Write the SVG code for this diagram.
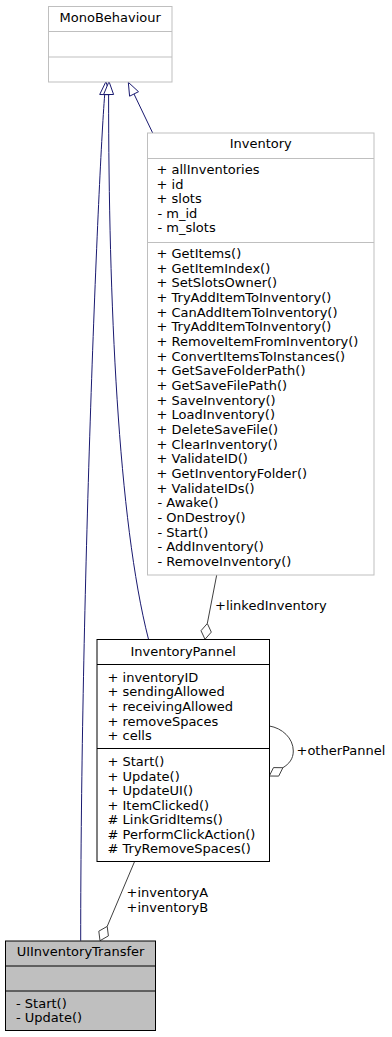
<svg xmlns="http://www.w3.org/2000/svg" width="392" height="1037" viewBox="0 0 392 1037">
  <style>
    text { font-family: "DejaVu Sans", "Liberation Sans", sans-serif; font-size: 13px; fill: #000; }
    .c { text-anchor: middle; }
    .ext { fill: #fff; stroke: #bfbfbf; stroke-width: 1; }
    .cls { fill: #fff; stroke: #000; stroke-width: 1; }
    .cur { fill: #bfbfbf; stroke: #000; stroke-width: 1; }
    .sepx { stroke: #bfbfbf; stroke-width: 1; }
    .sep { stroke: #000; stroke-width: 1; }
    .inh { fill: none; stroke: #191970; stroke-width: 1; }
    .inhHead { fill: #fff; stroke: #191970; stroke-width: 1; }
    .agg { fill: none; stroke: #404040; stroke-width: 1; }
    .aggHead { fill: #fff; stroke: #404040; stroke-width: 1; }
  </style>

  <g id="connectors">
    <!-- UIInventoryTransfer -> MonoBehaviour -->
    <path class="inh" d="M80.7,940.7 C80.7,600 98,180 104.7,94.5"/>
    <polygon class="inhHead" points="106,81.5 99.7,94.5 109.7,94.7"/>
    <!-- InventoryPannel -> MonoBehaviour -->
    <path class="inh" d="M148.5,639.3 C118,520 108.6,300 108.6,94.5"/>
    <polygon class="inhHead" points="109,81.5 103.6,94.5 113.6,94.5"/>
    <!-- Inventory -> MonoBehaviour -->
    <path class="inh" d="M152.7,133 L134,94"/>
    <polygon class="inhHead" points="128.3,82.3 129.6,96.2 138.5,91.7"/>

    <!-- linkedInventory -->
    <path class="agg" d="M216.7,575 L207.3,623.5"/>
    <polygon class="aggHead" points="205,639.3 201,630.7 207.3,623.5 211.3,632.1"/>
    <text x="215" y="610">+linkedInventory</text>

    <!-- otherPannel (self) -->
    <path class="agg" d="M269.3,726 C282,728 293.3,738 293.3,751 C293.3,759 289,764 282.9,767.7"/>
    <polygon class="aggHead" points="269.3,776 273.5,767.6 282.9,767.7 278.7,776.1"/>
    <text x="296.5" y="754.5">+otherPannel</text>

    <!-- inventoryA / inventoryB -->
    <path class="agg" d="M134.5,861.7 L107.2,926.4"/>
    <polygon class="aggHead" points="100,940.7 98.8,931.2 107.2,926.4 108.4,935.9"/>
    <text x="126.5" y="897">+inventoryA</text>
    <text x="126.5" y="911.5">+inventoryB</text>
  </g>

  <g id="MonoBehaviour">
    <rect class="ext" x="48.5" y="6.5" width="123.5" height="75.5"/>
    <line class="sepx" x1="48.5" y1="31.5" x2="172" y2="31.5"/>
    <line class="sepx" x1="48.5" y1="57" x2="172" y2="57"/>
    <text class="c" x="110.2" y="22">MonoBehaviour</text>
  </g>

  <g id="Inventory">
    <rect class="ext" x="147.5" y="133" width="226.5" height="442"/>
    <line class="sepx" x1="147.5" y1="158.5" x2="374" y2="158.5"/>
    <line class="sepx" x1="147.5" y1="242.5" x2="374" y2="242.5"/>
    <text class="c" x="260.7" y="148.3">Inventory</text>
    <text x="156.5" y="174">+ allInventories</text>
    <text x="156.5" y="188.6">+ id</text>
    <text x="156.5" y="203.2">+ slots</text>
    <text x="157.5" y="217.8">- m_id</text>
    <text x="157.5" y="232.4">- m_slots</text>
    <text x="156.5" y="258">+ GetItems()</text>
    <text x="156.5" y="272.67">+ GetItemIndex()</text>
    <text x="156.5" y="287.33">+ SetSlotsOwner()</text>
    <text x="156.5" y="302">+ TryAddItemToInventory()</text>
    <text x="156.5" y="316.67">+ CanAddItemToInventory()</text>
    <text x="156.5" y="331.33">+ TryAddItemToInventory()</text>
    <text x="156.5" y="346">+ RemoveItemFromInventory()</text>
    <text x="156.5" y="360.67">+ ConvertItemsToInstances()</text>
    <text x="156.5" y="375.33">+ GetSaveFolderPath()</text>
    <text x="156.5" y="390">+ GetSaveFilePath()</text>
    <text x="156.5" y="404.67">+ SaveInventory()</text>
    <text x="156.5" y="419.33">+ LoadInventory()</text>
    <text x="156.5" y="434">+ DeleteSaveFile()</text>
    <text x="156.5" y="448.67">+ ClearInventory()</text>
    <text x="156.5" y="463.33">+ ValidateID()</text>
    <text x="156.5" y="478">+ GetInventoryFolder()</text>
    <text x="156.5" y="492.67">+ ValidateIDs()</text>
    <text x="157.5" y="507.33">- Awake()</text>
    <text x="157.5" y="522">- OnDestroy()</text>
    <text x="157.5" y="536.67">- Start()</text>
    <text x="157.5" y="551.33">- AddInventory()</text>
    <text x="157.5" y="566">- RemoveInventory()</text>
  </g>

  <g id="InventoryPannel">
    <rect class="cls" x="97" y="639.5" width="172.5" height="222"/>
    <line class="sep" x1="97" y1="664.5" x2="269.5" y2="664.5"/>
    <line class="sep" x1="97" y1="748.5" x2="269.5" y2="748.5"/>
    <text class="c" x="183.2" y="656">InventoryPannel</text>
    <text x="107.5" y="681.8">+ inventoryID</text>
    <text x="107.5" y="696.4">+ sendingAllowed</text>
    <text x="107.5" y="711">+ receivingAllowed</text>
    <text x="107.5" y="725.6">+ removeSpaces</text>
    <text x="107.5" y="740.2">+ cells</text>
    <text x="107.5" y="766.2">+ Start()</text>
    <text x="107.5" y="780.7">+ Update()</text>
    <text x="107.5" y="795.2">+ UpdateUI()</text>
    <text x="107.5" y="809.7">+ ItemClicked()</text>
    <text x="107.5" y="824.2"># LinkGridItems()</text>
    <text x="107.5" y="838.7"># PerformClickAction()</text>
    <text x="107.5" y="853.2"># TryRemoveSpaces()</text>
  </g>

  <g id="UIInventoryTransfer">
    <rect class="cur" x="5.5" y="941" width="150" height="89.5"/>
    <line class="sep" x1="5.5" y1="966" x2="155.5" y2="966"/>
    <line class="sep" x1="5.5" y1="991" x2="155.5" y2="991"/>
    <text class="c" x="80.5" y="956.3">UIInventoryTransfer</text>
    <text x="16" y="1007.8">- Start()</text>
    <text x="16" y="1021.8">- Update()</text>
  </g>
</svg>
